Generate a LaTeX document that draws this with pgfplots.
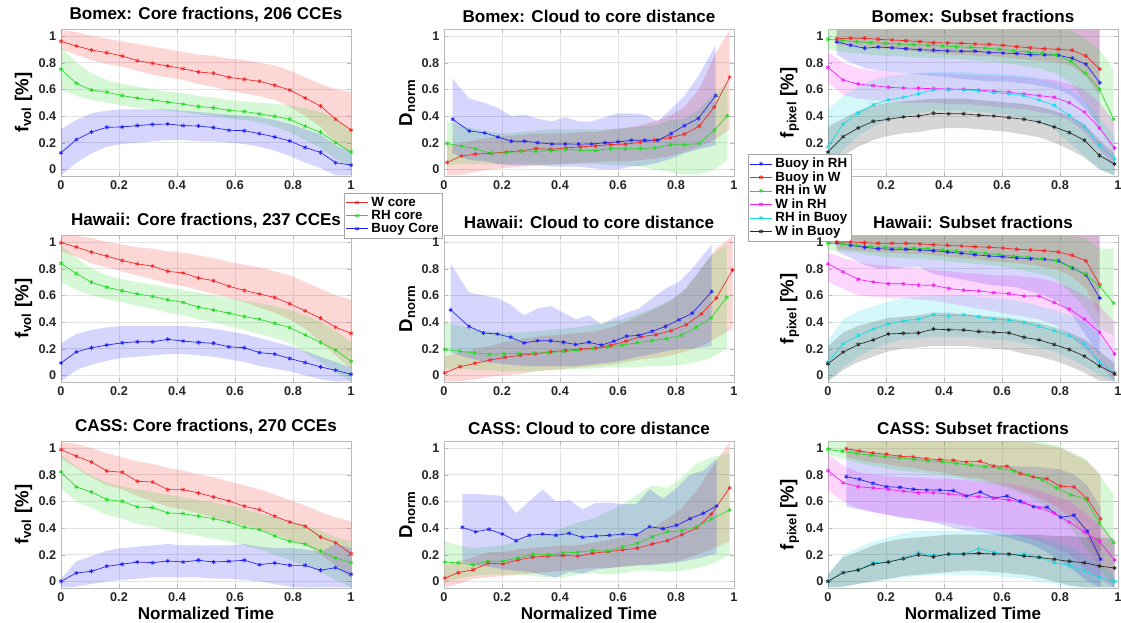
\documentclass[border=0pt]{standalone}
\usepackage{fontspec}
\setmainfont{Liberation Sans}
\usepackage{pgfplots}
\usepackage{pgfplotstable}
\usepgfplotslibrary{fillbetween}
\pgfplotsset{compat=1.18}

\definecolor{cR}{rgb}{0.95,0.15,0.15}
\definecolor{cG}{rgb}{0.15,0.85,0.15}
\definecolor{cB}{rgb}{0.12,0.12,0.95}
\definecolor{cM}{rgb}{0.95,0.12,0.95}
\definecolor{cC}{rgb}{0.1,0.85,0.9}
\definecolor{cK}{rgb}{0.15,0.15,0.15}

% ---------------- Bomex ----------------
\pgfplotstableread{
x y lo hi
0 0.96 0.90 1.045
0.053 0.925 0.86 1.03
0.105 0.895 0.82 1.00
0.158 0.875 0.79 0.98
0.211 0.85 0.77 0.96
0.263 0.815 0.74 0.94
0.316 0.795 0.71 0.92
0.368 0.775 0.69 0.90
0.421 0.755 0.67 0.88
0.474 0.73 0.64 0.86
0.526 0.72 0.62 0.85
0.579 0.69 0.59 0.83
0.632 0.675 0.57 0.82
0.684 0.66 0.55 0.80
0.737 0.63 0.52 0.78
0.789 0.595 0.47 0.74
0.842 0.535 0.40 0.69
0.895 0.475 0.32 0.64
0.947 0.375 0.20 0.60
1 0.295 0.12 0.58
}\BcW
\pgfplotstableread{
x y lo hi
0 0.75 0.60 0.92
0.053 0.645 0.55 0.80
0.105 0.595 0.52 0.72
0.158 0.578 0.50 0.67
0.211 0.553 0.48 0.64
0.263 0.534 0.46 0.62
0.316 0.521 0.45 0.60
0.368 0.504 0.44 0.58
0.421 0.489 0.43 0.57
0.474 0.471 0.41 0.55
0.526 0.462 0.40 0.54
0.579 0.442 0.38 0.52
0.632 0.434 0.37 0.51
0.684 0.417 0.35 0.50
0.737 0.397 0.32 0.49
0.789 0.375 0.28 0.48
0.842 0.323 0.22 0.46
0.895 0.278 0.16 0.43
0.947 0.20 0.08 0.38
1 0.13 0.02 0.30
}\BcR
\pgfplotstableread{
x y lo hi
0 0.124 -0.045 0.30
0.053 0.223 0.05 0.37
0.105 0.28 0.12 0.42
0.158 0.315 0.17 0.44
0.211 0.318 0.19 0.45
0.263 0.328 0.20 0.45
0.316 0.337 0.21 0.45
0.368 0.34 0.22 0.45
0.421 0.328 0.22 0.44
0.474 0.325 0.21 0.43
0.526 0.313 0.21 0.42
0.579 0.293 0.20 0.41
0.632 0.29 0.19 0.40
0.684 0.268 0.17 0.39
0.737 0.243 0.14 0.37
0.789 0.213 0.10 0.34
0.842 0.164 0.05 0.30
0.895 0.127 0.01 0.26
0.947 0.05 -0.045 0.18
1 0.032 -0.045 0.13
}\BcB
\pgfplotstableread{
x y lo hi
0.011 0.052 -0.045 0.18
0.06 0.10 -0.04 0.20
0.109 0.114 -0.02 0.22
0.163 0.12 0.0 0.24
0.215 0.13 0.01 0.25
0.265 0.139 0.02 0.26
0.317 0.156 0.03 0.27
0.368 0.149 0.04 0.27
0.42 0.161 0.04 0.27
0.471 0.169 0.05 0.28
0.523 0.176 0.05 0.28
0.574 0.186 0.06 0.30
0.626 0.189 0.06 0.31
0.677 0.203 0.07 0.33
0.726 0.218 0.08 0.36
0.78 0.238 0.10 0.40
0.829 0.263 0.13 0.47
0.88 0.323 0.17 0.60
0.932 0.467 0.22 0.85
0.985 0.69 0.30 1.045
}\BdW
\pgfplotstableread{
x y lo hi
0.011 0.194 0.03 0.36
0.06 0.174 0.04 0.33
0.109 0.154 0.04 0.30
0.163 0.12 0.04 0.28
0.215 0.124 0.04 0.27
0.265 0.136 0.04 0.28
0.317 0.136 0.04 0.29
0.368 0.139 0.03 0.30
0.42 0.149 0.04 0.30
0.471 0.144 0.04 0.30
0.523 0.139 0.04 0.30
0.574 0.156 0.03 0.30
0.626 0.154 0.03 0.31
0.677 0.156 0.02 0.32
0.726 0.16 0.0 0.33
0.78 0.185 -0.02 0.37
0.829 0.185 -0.04 0.38
0.88 0.194 -0.04 0.45
0.932 0.293 0.0 0.57
0.977 0.402 0.07 0.65
}\BdR
\pgfplotstableread{
x y lo hi
0.03 0.375 0.12 0.68
0.087 0.288 0.07 0.53
0.14 0.273 0.06 0.50
0.186 0.243 0.04 0.46
0.232 0.211 0.03 0.40
0.277 0.211 0.03 0.41
0.323 0.20 0.03 0.38
0.372 0.19 0.02 0.36
0.418 0.19 0.02 0.39
0.464 0.189 0.02 0.36
0.509 0.19 0.01 0.36
0.555 0.20 0.0 0.39
0.60 0.206 0.0 0.42
0.646 0.218 0.02 0.42
0.692 0.218 0.03 0.41
0.737 0.218 0.05 0.36
0.783 0.268 0.08 0.45
0.829 0.328 0.12 0.55
0.877 0.382 0.15 0.70
0.937 0.553 0.18 0.93
}\BdB
\pgfplotstableread{
x y lo hi
0.03 0.957 0.86 1.045
0.078 0.93 0.80 1.045
0.126 0.908 0.76 1.045
0.173 0.917 0.74 1.045
0.221 0.912 0.73 1.045
0.269 0.905 0.72 1.045
0.317 0.897 0.71 1.045
0.364 0.893 0.70 1.045
0.412 0.888 0.69 1.045
0.46 0.886 0.68 1.045
0.507 0.886 0.67 1.045
0.555 0.876 0.66 1.045
0.603 0.873 0.66 1.045
0.651 0.868 0.65 1.045
0.698 0.86 0.64 1.045
0.746 0.858 0.62 1.045
0.794 0.856 0.60 1.045
0.842 0.833 0.55 1.045
0.889 0.789 0.45 1.045
0.937 0.65 0.32 1.045
}\BsBR
\pgfplotstableread{
x y lo hi
0.03 0.98 0.93 1.045
0.078 0.983 0.93 1.045
0.126 0.983 0.92 1.045
0.173 0.975 0.91 1.045
0.221 0.97 0.90 1.045
0.269 0.965 0.89 1.045
0.317 0.958 0.88 1.045
0.364 0.95 0.87 1.045
0.412 0.948 0.86 1.045
0.46 0.945 0.86 1.045
0.507 0.94 0.85 1.045
0.555 0.937 0.85 1.045
0.603 0.93 0.84 1.045
0.651 0.92 0.83 1.045
0.698 0.912 0.82 1.045
0.746 0.905 0.81 1.045
0.794 0.90 0.80 1.045
0.842 0.893 0.77 1.045
0.889 0.851 0.70 1.045
0.937 0.752 0.55 1.045
}\BsBW
\pgfplotstableread{
x y lo hi
0 0.975 0.90 1.045
0.049 0.967 0.88 1.045
0.099 0.957 0.87 1.045
0.148 0.95 0.86 1.045
0.197 0.945 0.85 1.045
0.246 0.94 0.85 1.045
0.296 0.935 0.84 1.045
0.345 0.93 0.84 1.045
0.394 0.925 0.83 1.045
0.443 0.92 0.83 1.045
0.493 0.915 0.82 1.045
0.542 0.91 0.81 1.045
0.591 0.90 0.80 1.045
0.64 0.89 0.79 1.045
0.69 0.88 0.77 1.045
0.739 0.87 0.75 1.045
0.788 0.86 0.72 1.045
0.837 0.81 0.65 1.045
0.887 0.72 0.50 0.98
0.936 0.60 0.30 0.90
0.985 0.375 0.12 0.75
}\BsRW
\pgfplotstableread{
x y lo hi
0 0.764 0.65 0.88
0.052 0.67 0.56 0.80
0.104 0.64 0.53 0.76
0.156 0.628 0.52 0.74
0.208 0.615 0.51 0.73
0.26 0.61 0.50 0.72
0.312 0.608 0.50 0.72
0.364 0.605 0.50 0.72
0.416 0.603 0.49 0.72
0.468 0.60 0.49 0.71
0.52 0.595 0.48 0.71
0.572 0.585 0.47 0.70
0.624 0.579 0.46 0.70
0.676 0.565 0.45 0.69
0.728 0.553 0.43 0.68
0.78 0.54 0.41 0.67
0.832 0.50 0.37 0.64
0.884 0.43 0.28 0.60
0.936 0.31 0.15 0.50
0.988 0.16 0.02 0.35
}\BsWR
\pgfplotstableread{
x y lo hi
0 0.17 -0.045 0.45
0.052 0.34 0.15 0.55
0.104 0.42 0.25 0.62
0.156 0.485 0.32 0.67
0.208 0.52 0.37 0.70
0.26 0.54 0.40 0.71
0.312 0.566 0.42 0.72
0.364 0.596 0.44 0.73
0.416 0.596 0.44 0.73
0.468 0.596 0.44 0.73
0.52 0.59 0.43 0.72
0.572 0.575 0.42 0.72
0.624 0.566 0.41 0.71
0.676 0.553 0.39 0.70
0.728 0.52 0.35 0.68
0.78 0.48 0.30 0.65
0.832 0.405 0.20 0.60
0.884 0.32 0.10 0.52
0.936 0.18 0.0 0.38
0.988 0.08 -0.045 0.25
}\BsRB
\pgfplotstableread{
x y lo hi
0 0.13 -0.045 0.32
0.052 0.245 0.10 0.38
0.104 0.31 0.17 0.44
0.156 0.36 0.22 0.48
0.208 0.375 0.25 0.50
0.26 0.393 0.27 0.51
0.312 0.40 0.28 0.52
0.364 0.42 0.30 0.53
0.416 0.417 0.31 0.53
0.468 0.417 0.31 0.53
0.52 0.405 0.30 0.52
0.572 0.40 0.29 0.51
0.624 0.388 0.28 0.50
0.676 0.375 0.26 0.49
0.728 0.355 0.24 0.47
0.78 0.318 0.20 0.44
0.832 0.276 0.15 0.40
0.884 0.218 0.09 0.34
0.936 0.104 0.0 0.22
0.988 0.04 -0.045 0.12
}\BsWB

% ---------------- Hawaii ----------------
\pgfplotstableread{
x y lo hi
0 0.995 0.93 1.045
0.053 0.962 0.89 1.045
0.105 0.924 0.84 1.03
0.158 0.894 0.81 1.00
0.211 0.861 0.78 0.98
0.263 0.836 0.75 0.96
0.316 0.819 0.72 0.95
0.368 0.78 0.69 0.93
0.421 0.768 0.67 0.92
0.474 0.73 0.64 0.90
0.526 0.71 0.61 0.88
0.579 0.668 0.58 0.85
0.632 0.637 0.55 0.83
0.684 0.61 0.51 0.81
0.737 0.584 0.47 0.78
0.789 0.537 0.42 0.75
0.842 0.484 0.35 0.70
0.895 0.428 0.25 0.65
0.947 0.36 0.15 0.60
1 0.315 0.05 0.57
}\HcW
\pgfplotstableread{
x y lo hi
0 0.839 0.70 0.97
0.053 0.763 0.64 0.88
0.105 0.698 0.60 0.80
0.158 0.66 0.57 0.75
0.211 0.635 0.55 0.72
0.263 0.61 0.52 0.70
0.316 0.592 0.50 0.68
0.368 0.567 0.47 0.66
0.421 0.547 0.45 0.64
0.474 0.511 0.42 0.62
0.526 0.491 0.40 0.60
0.579 0.466 0.37 0.58
0.632 0.441 0.34 0.56
0.684 0.421 0.31 0.54
0.737 0.39 0.28 0.52
0.789 0.358 0.24 0.49
0.842 0.302 0.17 0.45
0.895 0.247 0.10 0.40
0.947 0.189 0.02 0.33
1 0.106 -0.045 0.25
}\HcR
\pgfplotstableread{
x y lo hi
0 0.093 -0.045 0.24
0.053 0.176 0.04 0.31
0.105 0.207 0.08 0.34
0.158 0.227 0.11 0.36
0.211 0.244 0.13 0.37
0.263 0.252 0.14 0.37
0.316 0.252 0.15 0.37
0.368 0.27 0.16 0.37
0.421 0.257 0.16 0.37
0.474 0.247 0.15 0.36
0.526 0.24 0.14 0.35
0.579 0.214 0.12 0.33
0.632 0.207 0.10 0.31
0.684 0.171 0.07 0.28
0.737 0.159 0.05 0.25
0.789 0.126 0.03 0.22
0.842 0.096 0.0 0.18
0.895 0.063 -0.03 0.14
0.947 0.038 -0.045 0.10
1 0.008 -0.045 0.06
}\HcB
\pgfplotstableread{
x y lo hi
0.003 0.02 -0.045 0.14
0.055 0.065 -0.045 0.17
0.107 0.09 -0.03 0.20
0.159 0.115 -0.01 0.22
0.211 0.135 0.0 0.25
0.263 0.15 0.01 0.27
0.315 0.162 0.03 0.29
0.367 0.176 0.04 0.30
0.419 0.187 0.05 0.31
0.471 0.197 0.06 0.32
0.523 0.205 0.07 0.33
0.575 0.225 0.08 0.36
0.627 0.255 0.10 0.40
0.679 0.29 0.12 0.45
0.731 0.305 0.13 0.50
0.783 0.335 0.15 0.56
0.835 0.38 0.18 0.65
0.887 0.46 0.22 0.80
0.939 0.58 0.28 0.95
0.995 0.79 0.35 1.045
}\HdW
\pgfplotstableread{
x y lo hi
0.003 0.194 0.05 0.40
0.054 0.18 0.05 0.37
0.105 0.168 0.04 0.35
0.156 0.158 0.04 0.33
0.207 0.162 0.03 0.32
0.258 0.163 0.03 0.32
0.309 0.165 0.03 0.33
0.36 0.17 0.04 0.34
0.411 0.18 0.04 0.35
0.462 0.188 0.05 0.36
0.513 0.20 0.05 0.38
0.564 0.212 0.06 0.40
0.615 0.226 0.06 0.42
0.666 0.245 0.06 0.46
0.717 0.26 0.07 0.50
0.768 0.275 0.07 0.55
0.819 0.30 0.08 0.62
0.87 0.36 0.10 0.75
0.921 0.43 0.13 0.90
0.975 0.585 0.20 0.98
}\HdR
\pgfplotstableread{
x y lo hi
0.023 0.491 0.17 0.84
0.086 0.367 0.13 0.62
0.136 0.318 0.10 0.60
0.184 0.31 0.09 0.58
0.23 0.285 0.08 0.53
0.276 0.243 0.07 0.45
0.322 0.26 0.07 0.50
0.368 0.26 0.07 0.52
0.412 0.248 0.07 0.47
0.454 0.231 0.07 0.42
0.50 0.248 0.08 0.45
0.543 0.226 0.09 0.38
0.586 0.256 0.10 0.43
0.63 0.293 0.12 0.47
0.672 0.30 0.14 0.50
0.718 0.33 0.16 0.58
0.764 0.367 0.18 0.65
0.81 0.417 0.20 0.70
0.856 0.466 0.20 0.80
0.923 0.628 0.22 0.98
}\HdB
\pgfplotstableread{
x y lo hi
0.03 0.995 0.93 1.045
0.078 0.975 0.88 1.045
0.126 0.96 0.83 1.045
0.173 0.95 0.80 1.045
0.221 0.945 0.80 1.045
0.269 0.945 0.81 1.045
0.317 0.94 0.81 1.045
0.364 0.935 0.76 1.045
0.412 0.925 0.74 1.045
0.46 0.915 0.72 1.045
0.507 0.905 0.70 1.045
0.555 0.895 0.68 1.045
0.603 0.89 0.67 1.045
0.651 0.88 0.66 1.045
0.698 0.875 0.63 1.045
0.746 0.87 0.60 1.045
0.794 0.86 0.55 1.045
0.842 0.805 0.45 1.045
0.889 0.755 0.30 1.045
0.937 0.58 0.15 1.045
}\HsBR
\pgfplotstableread{
x y lo hi
0.03 1.0 0.95 1.045
0.078 1.0 0.94 1.045
0.126 0.995 0.93 1.045
0.173 0.99 0.92 1.045
0.221 0.99 0.92 1.045
0.269 0.99 0.91 1.045
0.317 0.985 0.91 1.045
0.364 0.98 0.90 1.045
0.412 0.975 0.89 1.045
0.46 0.97 0.88 1.045
0.507 0.965 0.87 1.045
0.555 0.96 0.86 1.045
0.603 0.955 0.85 1.045
0.651 0.945 0.84 1.045
0.698 0.94 0.83 1.045
0.746 0.935 0.81 1.045
0.794 0.925 0.79 1.045
0.842 0.90 0.74 1.045
0.889 0.86 0.65 1.045
0.937 0.68 0.45 1.045
}\HsBW
\pgfplotstableread{
x y lo hi
0 0.99 0.94 1.045
0.049 0.985 0.93 1.045
0.099 0.975 0.92 1.045
0.148 0.965 0.90 1.045
0.197 0.96 0.89 1.045
0.246 0.955 0.88 1.045
0.296 0.955 0.88 1.045
0.345 0.95 0.87 1.045
0.394 0.94 0.86 1.045
0.443 0.93 0.85 1.045
0.493 0.925 0.84 1.045
0.542 0.915 0.83 1.045
0.591 0.905 0.82 1.045
0.64 0.895 0.80 1.045
0.69 0.885 0.78 1.045
0.739 0.875 0.76 1.045
0.788 0.86 0.72 1.045
0.837 0.81 0.62 1.045
0.887 0.76 0.50 1.03
0.936 0.67 0.35 0.95
0.985 0.54 0.30 0.95
}\HsRW
\pgfplotstableread{
x y lo hi
0 0.836 0.70 0.92
0.052 0.777 0.65 0.88
0.104 0.72 0.60 0.85
0.156 0.70 0.59 0.83
0.208 0.687 0.58 0.82
0.26 0.687 0.58 0.81
0.312 0.677 0.57 0.80
0.364 0.675 0.56 0.79
0.416 0.652 0.54 0.78
0.468 0.638 0.52 0.77
0.52 0.633 0.50 0.76
0.572 0.62 0.48 0.75
0.624 0.613 0.46 0.75
0.676 0.595 0.44 0.74
0.728 0.595 0.42 0.73
0.78 0.546 0.38 0.70
0.832 0.496 0.30 0.66
0.884 0.422 0.20 0.60
0.936 0.323 0.08 0.52
0.988 0.161 -0.045 0.40
}\HsWR
\pgfplotstableread{
x y lo hi
0 0.10 -0.045 0.26
0.052 0.236 0.06 0.42
0.104 0.298 0.14 0.48
0.156 0.347 0.20 0.52
0.208 0.385 0.24 0.55
0.26 0.409 0.27 0.58
0.312 0.422 0.28 0.59
0.364 0.454 0.29 0.60
0.416 0.444 0.29 0.60
0.468 0.454 0.29 0.60
0.52 0.44 0.28 0.59
0.572 0.422 0.27 0.58
0.624 0.414 0.26 0.57
0.676 0.397 0.24 0.55
0.728 0.367 0.21 0.52
0.78 0.335 0.18 0.49
0.832 0.298 0.13 0.45
0.884 0.236 0.07 0.40
0.936 0.10 0.0 0.30
0.988 0.02 -0.045 0.15
}\HsRB
\pgfplotstableread{
x y lo hi
0 0.087 -0.045 0.22
0.052 0.174 0.04 0.32
0.104 0.231 0.10 0.37
0.156 0.266 0.14 0.40
0.208 0.31 0.18 0.43
0.26 0.315 0.20 0.44
0.312 0.318 0.21 0.45
0.364 0.347 0.22 0.47
0.416 0.342 0.22 0.47
0.468 0.34 0.22 0.46
0.52 0.328 0.21 0.45
0.572 0.323 0.20 0.44
0.624 0.318 0.19 0.43
0.676 0.285 0.16 0.41
0.728 0.266 0.14 0.39
0.78 0.231 0.11 0.36
0.832 0.194 0.07 0.32
0.884 0.144 0.02 0.27
0.936 0.07 -0.04 0.18
0.988 0.012 -0.045 0.09
}\HsWB

% ---------------- CASS ----------------
\pgfplotstableread{
x y lo hi
0 0.988 0.92 1.045
0.053 0.938 0.85 1.03
0.105 0.895 0.78 1.00
0.158 0.828 0.72 0.96
0.211 0.818 0.69 0.93
0.263 0.75 0.64 0.90
0.316 0.745 0.60 0.88
0.368 0.688 0.56 0.85
0.421 0.688 0.54 0.83
0.474 0.663 0.51 0.80
0.526 0.633 0.48 0.78
0.579 0.603 0.45 0.75
0.632 0.563 0.42 0.72
0.684 0.538 0.39 0.69
0.737 0.488 0.35 0.65
0.789 0.445 0.31 0.61
0.842 0.413 0.27 0.57
0.895 0.333 0.20 0.52
0.947 0.29 0.12 0.48
1 0.208 0.02 0.45
}\CcW
\pgfplotstableread{
x y lo hi
0 0.82 0.70 0.95
0.053 0.708 0.60 0.86
0.105 0.67 0.55 0.79
0.158 0.613 0.50 0.74
0.211 0.60 0.47 0.71
0.263 0.558 0.43 0.69
0.316 0.553 0.41 0.67
0.368 0.513 0.38 0.65
0.421 0.508 0.36 0.63
0.474 0.488 0.34 0.61
0.526 0.47 0.32 0.59
0.579 0.445 0.30 0.57
0.632 0.405 0.27 0.54
0.684 0.388 0.24 0.51
0.737 0.34 0.20 0.48
0.789 0.30 0.16 0.45
0.842 0.278 0.12 0.42
0.895 0.228 0.07 0.38
0.947 0.175 0.01 0.33
1 0.14 -0.045 0.30
}\CcR
\pgfplotstableread{
x y lo hi
0 0.0 -0.045 0.02
0.053 0.063 -0.04 0.15
0.105 0.075 -0.02 0.19
0.158 0.113 0.0 0.23
0.211 0.128 0.01 0.25
0.263 0.145 0.02 0.26
0.316 0.14 0.03 0.27
0.368 0.153 0.03 0.28
0.421 0.145 0.03 0.27
0.474 0.158 0.03 0.27
0.526 0.145 0.02 0.27
0.579 0.15 0.02 0.27
0.632 0.158 0.01 0.28
0.684 0.125 0.0 0.26
0.737 0.138 -0.02 0.25
0.789 0.12 -0.04 0.25
0.842 0.12 -0.045 0.24
0.895 0.083 -0.045 0.22
0.947 0.103 -0.045 0.28
1 0.053 -0.045 0.25
}\CcB
\pgfplotstableread{
x y lo hi
0.003 0.025 -0.045 0.12
0.049 0.065 -0.02 0.15
0.10 0.087 0.02 0.18
0.152 0.136 0.03 0.22
0.203 0.131 0.04 0.22
0.255 0.161 0.05 0.24
0.306 0.181 0.06 0.25
0.358 0.189 0.07 0.26
0.41 0.194 0.08 0.27
0.461 0.189 0.09 0.27
0.513 0.211 0.10 0.29
0.565 0.223 0.10 0.31
0.616 0.236 0.11 0.33
0.667 0.248 0.12 0.36
0.718 0.28 0.13 0.40
0.77 0.305 0.14 0.47
0.82 0.35 0.16 0.55
0.871 0.40 0.20 0.68
0.922 0.504 0.24 0.85
0.985 0.702 0.30 1.045
}\CdW
\pgfplotstableread{
x y lo hi
0.003 0.144 0.0 0.30
0.049 0.139 0.02 0.27
0.10 0.124 0.04 0.25
0.152 0.151 0.05 0.26
0.203 0.151 0.05 0.27
0.255 0.176 0.05 0.30
0.306 0.201 0.04 0.33
0.358 0.199 0.03 0.36
0.41 0.213 0.03 0.40
0.461 0.218 0.05 0.44
0.513 0.231 0.06 0.47
0.565 0.226 0.05 0.52
0.616 0.26 0.06 0.58
0.667 0.285 0.08 0.65
0.718 0.335 0.08 0.72
0.77 0.372 0.07 0.70
0.82 0.38 0.08 0.78
0.871 0.41 0.10 0.88
0.922 0.467 0.13 0.93
0.985 0.536 0.20 0.96
}\CdR
\pgfplotstableread{
x y lo hi
0.063 0.405 0.15 0.655
0.109 0.372 0.12 0.655
0.155 0.39 0.11 0.65
0.201 0.355 0.09 0.64
0.248 0.305 0.08 0.51
0.294 0.345 0.07 0.60
0.34 0.355 0.05 0.69
0.386 0.345 0.03 0.60
0.432 0.36 0.07 0.61
0.478 0.33 0.06 0.54
0.525 0.34 0.09 0.59
0.571 0.345 0.10 0.59
0.617 0.355 0.11 0.58
0.663 0.35 0.12 0.58
0.709 0.41 0.12 0.69
0.755 0.395 0.13 0.62
0.802 0.42 0.14 0.70
0.848 0.47 0.16 0.80
0.894 0.51 0.18 0.83
0.94 0.565 0.21 0.92
}\CdB
\pgfplotstableread{
x y lo hi
0.063 0.785 0.56 1.00
0.109 0.765 0.54 0.98
0.155 0.735 0.52 0.96
0.201 0.71 0.50 0.95
0.248 0.705 0.48 0.94
0.294 0.69 0.47 0.93
0.34 0.685 0.45 0.92
0.386 0.685 0.43 0.91
0.432 0.68 0.40 0.90
0.478 0.64 0.38 0.89
0.525 0.67 0.37 0.88
0.571 0.625 0.35 0.87
0.617 0.64 0.33 0.87
0.663 0.60 0.30 0.86
0.709 0.56 0.27 0.86
0.755 0.555 0.22 0.85
0.802 0.48 0.15 0.84
0.848 0.495 0.08 0.80
0.894 0.375 0.0 0.72
0.94 0.165 -0.045 0.55
}\CsBR
\pgfplotstableread{
x y lo hi
0.063 0.995 0.93 1.045
0.109 0.978 0.91 1.045
0.155 0.963 0.89 1.045
0.201 0.953 0.88 1.045
0.248 0.938 0.86 1.045
0.294 0.933 0.85 1.045
0.34 0.92 0.83 1.045
0.386 0.913 0.82 1.045
0.432 0.908 0.80 1.045
0.478 0.895 0.78 1.045
0.525 0.90 0.77 1.045
0.571 0.865 0.74 1.045
0.617 0.863 0.72 1.045
0.663 0.808 0.68 1.045
0.709 0.783 0.64 1.04
0.755 0.77 0.60 1.02
0.802 0.713 0.54 1.00
0.848 0.708 0.45 0.95
0.894 0.62 0.32 0.90
0.94 0.47 0.15 0.80
}\CsBW
\pgfplotstableread{
x y lo hi
0 0.99 0.95 1.045
0.049 0.975 0.92 1.045
0.099 0.96 0.89 1.045
0.148 0.945 0.87 1.045
0.197 0.935 0.85 1.045
0.246 0.925 0.83 1.045
0.296 0.915 0.82 1.045
0.345 0.905 0.81 1.045
0.394 0.895 0.80 1.045
0.443 0.885 0.78 1.045
0.493 0.87 0.76 1.045
0.542 0.86 0.74 1.045
0.591 0.85 0.72 1.045
0.64 0.825 0.68 1.045
0.69 0.80 0.64 1.045
0.739 0.76 0.58 1.045
0.788 0.70 0.50 1.02
0.837 0.65 0.40 0.97
0.887 0.62 0.25 0.92
0.936 0.44 0.10 0.80
0.985 0.29 -0.045 0.65
}\CsRW
\pgfplotstableread{
x y lo hi
0 0.83 0.68 0.95
0.052 0.74 0.60 0.87
0.104 0.71 0.55 0.82
0.156 0.70 0.52 0.80
0.208 0.69 0.50 0.79
0.26 0.675 0.48 0.78
0.312 0.665 0.46 0.78
0.364 0.665 0.45 0.77
0.416 0.655 0.44 0.77
0.468 0.645 0.42 0.76
0.52 0.635 0.40 0.75
0.572 0.625 0.38 0.74
0.624 0.61 0.36 0.73
0.676 0.59 0.33 0.71
0.728 0.55 0.30 0.68
0.78 0.51 0.25 0.64
0.832 0.445 0.20 0.60
0.884 0.37 0.10 0.52
0.936 0.30 0.02 0.42
0.988 0.16 -0.045 0.30
}\CsWR
\pgfplotstableread{
x y lo hi
0 0.0 -0.045 0.05
0.052 0.065 -0.04 0.20
0.104 0.085 -0.02 0.25
0.156 0.14 0.0 0.30
0.208 0.145 0.01 0.33
0.26 0.175 0.03 0.36
0.312 0.215 0.04 0.38
0.364 0.195 0.05 0.38
0.416 0.20 0.05 0.38
0.468 0.205 0.05 0.38
0.52 0.245 0.05 0.38
0.572 0.22 0.04 0.37
0.624 0.20 0.03 0.36
0.676 0.205 0.02 0.35
0.728 0.18 0.0 0.33
0.78 0.14 -0.02 0.30
0.832 0.12 -0.04 0.26
0.884 0.08 -0.045 0.20
0.936 0.03 -0.045 0.12
0.988 0.0 -0.045 0.05
}\CsRB
\pgfplotstableread{
x y lo hi
0 0.0 -0.045 0.05
0.052 0.065 -0.04 0.18
0.104 0.085 -0.02 0.22
0.156 0.13 0.0 0.27
0.208 0.145 0.02 0.30
0.26 0.17 0.04 0.32
0.312 0.20 0.05 0.33
0.364 0.185 0.06 0.34
0.416 0.205 0.07 0.35
0.468 0.205 0.08 0.35
0.52 0.21 0.08 0.35
0.572 0.205 0.07 0.35
0.624 0.205 0.06 0.35
0.676 0.19 0.05 0.35
0.728 0.18 0.03 0.35
0.78 0.165 0.0 0.34
0.832 0.15 -0.03 0.34
0.884 0.14 -0.045 0.33
0.936 0.115 -0.045 0.33
0.988 0.10 -0.045 0.32
}\CsWB

% shaded spread between lo and hi, then the mean curve
\newcommand{\band}[3]{%
  \addplot[draw=none, name path=#3hi, forget plot] table[x=x, y=hi] {#2};
  \addplot[draw=none, name path=#3lo, forget plot] table[x=x, y=lo] {#2};
  \addplot[fill=#1, fill opacity=0.19, draw=none, forget plot] fill between[of=#3hi and #3lo];
}
\newcommand{\curve}[2]{%
  \addplot[#1, line width=0.5pt, mark=asterisk, mark size=1.6pt] table[x=x, y=y] {#2};
}

\pgfplotsset{
  panel/.style={
    scale only axis, width=217.5pt, height=110pt, anchor=south west,
    xmin=0, xmax=1, ymin=-0.05, ymax=1.05,
    xtick={0,0.2,0.4,0.6,0.8,1}, ytick={0,0.2,0.4,0.6,0.8,1},
    grid=major, major grid style={gray!22, line width=0.4pt},
    axis line style={gray!55}, tick style={gray!55},
    tick align=inside, major tick length=3pt,
    tick label style={font=\bfseries\fontsize{9.5}{10}\selectfont, text=black!85},
    /pgf/number format/assume math mode=true,
    title style={font=\bfseries\fontsize{12.8}{14}\selectfont, yshift=-4.5pt},
    ylabel style={font=\bfseries\fontsize{14}{15}\selectfont, yshift=-2pt},
    xlabel style={font=\bfseries\fontsize{12.8}{14}\selectfont, yshift=3pt},
    legend cell align=left,
    legend style={font=\bfseries\fontsize{10}{10}\selectfont, draw=gray!70,
      inner sep=0.8pt, row sep=-2.6pt},
  },
  core/.style={panel, ylabel={f\textsubscript{vol} [\%]}},
  dist/.style={panel, ylabel={D\textsubscript{norm}}},
  subs/.style={panel, ylabel={f\textsubscript{pixel} [\%]}},
}

\begin{document}
\begin{tikzpicture}

% ===== row 1: Bomex =====
\begin{axis}[core, at={(45.75pt,-132pt)}, title={Bomex: Core fractions, 206 CCEs},
  legend style={at={(0.976,-0.116)}, anchor=north west}]
  \band{cR}{\BcW}{a}\band{cG}{\BcR}{b}\band{cB}{\BcB}{c}
  \curve{cR}{\BcW}\curve{cG}{\BcR}\curve{cB}{\BcB}
  \legend{W core, RH core, Buoy Core}
\end{axis}
\begin{axis}[dist, at={(333pt,-132pt)}, title={Bomex: Cloud to core distance}]
  \band{cR}{\BdW}{a}\band{cG}{\BdR}{b}\band{cB}{\BdB}{c}
  \curve{cR}{\BdW}\curve{cG}{\BdR}\curve{cB}{\BdB}
\end{axis}
\begin{axis}[subs, at={(621pt,-132pt)}, title={Bomex: Subset fractions},
  xticklabels={,0.2,0.4,0.6,0.8,1}, yticklabels={,0.2,0.4,0.6,0.8,1},
  legend style={at={(-0.276,0.150)}, anchor=north west}]
  \band{cB}{\BsBR}{a}\band{cR}{\BsBW}{b}\band{cG}{\BsRW}{c}
  \band{cM}{\BsWR}{d}\band{cC}{\BsRB}{e}\band{cK}{\BsWB}{f}
  \curve{cB}{\BsBR}\curve{cR}{\BsBW}\curve{cG}{\BsRW}
  \curve{cM}{\BsWR}\curve{cC}{\BsRB}\curve{cK}{\BsWB}
  \legend{Buoy in RH, Buoy in W, RH in W, W in RH, RH in Buoy, W in Buoy}
\end{axis}

% ===== row 2: Hawaii =====
\begin{axis}[core, at={(45.75pt,-286.5pt)}, title={Hawaii: Core fractions, 237 CCEs}]
  \band{cR}{\HcW}{a}\band{cG}{\HcR}{b}\band{cB}{\HcB}{c}
  \curve{cR}{\HcW}\curve{cG}{\HcR}\curve{cB}{\HcB}
\end{axis}
\begin{axis}[dist, at={(333pt,-286.5pt)}, title={Hawaii: Cloud to core distance}]
  \band{cR}{\HdW}{a}\band{cG}{\HdR}{b}\band{cB}{\HdB}{c}
  \curve{cR}{\HdW}\curve{cG}{\HdR}\curve{cB}{\HdB}
\end{axis}
\begin{axis}[subs, at={(621pt,-286.5pt)}, title={Hawaii: Subset fractions}]
  \band{cB}{\HsBR}{a}\band{cR}{\HsBW}{b}\band{cG}{\HsRW}{c}
  \band{cM}{\HsWR}{d}\band{cC}{\HsRB}{e}\band{cK}{\HsWB}{f}
  \curve{cB}{\HsBR}\curve{cR}{\HsBW}\curve{cG}{\HsRW}
  \curve{cM}{\HsWR}\curve{cC}{\HsRB}\curve{cK}{\HsWB}
\end{axis}

% ===== row 3: CASS =====
\begin{axis}[core, at={(45.75pt,-441pt)}, title={CASS: Core fractions, 270 CCEs},
  xlabel={Normalized Time}]
  \band{cR}{\CcW}{a}\band{cG}{\CcR}{b}\band{cB}{\CcB}{c}
  \curve{cR}{\CcW}\curve{cG}{\CcR}\curve{cB}{\CcB}
\end{axis}
\begin{axis}[dist, at={(333pt,-441pt)}, title={CASS: Cloud to core distance},
  xlabel={Normalized Time}]
  \band{cR}{\CdW}{a}\band{cG}{\CdR}{b}\band{cB}{\CdB}{c}
  \curve{cR}{\CdW}\curve{cG}{\CdR}\curve{cB}{\CdB}
\end{axis}
\begin{axis}[subs, at={(621pt,-441pt)}, title={CASS: Subset fractions},
  xlabel={Normalized Time}]
  \band{cB}{\CsBR}{a}\band{cR}{\CsBW}{b}\band{cG}{\CsRW}{c}
  \band{cM}{\CsWR}{d}\band{cC}{\CsRB}{e}\band{cK}{\CsWB}{f}
  \curve{cB}{\CsBR}\curve{cR}{\CsBW}\curve{cG}{\CsRW}
  \curve{cM}{\CsWR}\curve{cC}{\CsRB}\curve{cK}{\CsWB}
\end{axis}

% fixed page frame
\pgfresetboundingbox
\path[use as bounding box] (0pt,0pt) rectangle (840.75pt,-466.5pt);
\end{tikzpicture}
\end{document}
